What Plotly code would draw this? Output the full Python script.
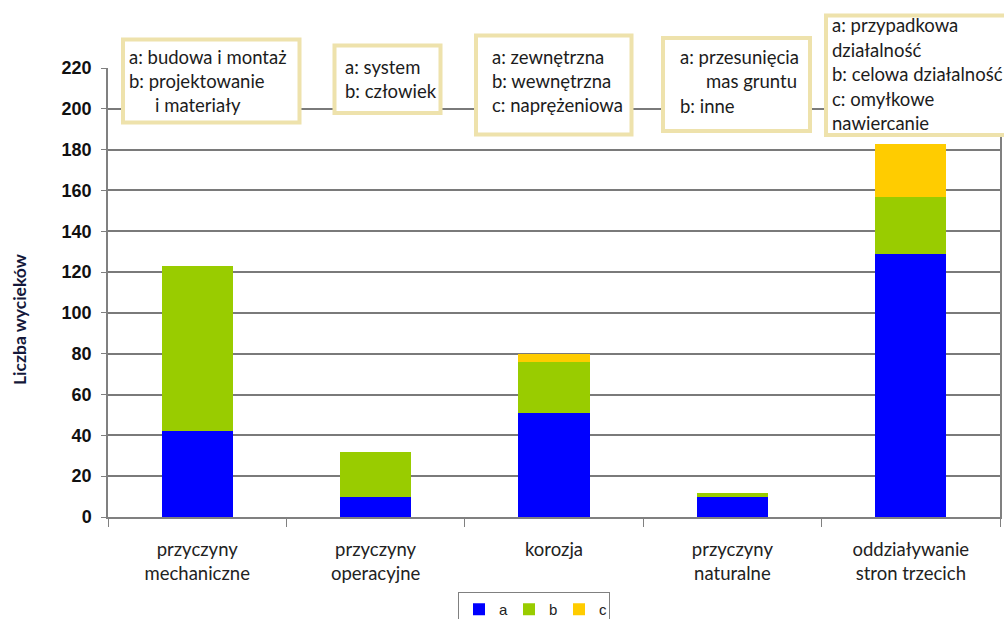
import plotly.graph_objects as go

# Leak counts by cause, split into sub-causes a / b / c
categories = ["przyczyny mechaniczne", "przyczyny operacyjne", "korozja",
              "przyczyny naturalne", "oddziaływanie stron trzecich"]
tick_labels = ["przyczyny<br>mechaniczne", "przyczyny<br>operacyjne", "korozja",
               "przyczyny<br>naturalne", "oddziaływanie<br>stron trzecich"]
series_a = [42, 10, 51, 10, 129]
series_b = [81, 22, 25, 2, 28]
series_c = [0, 0, 4, 0, 26]
y_ticks = list(range(0, 221, 20))

# Legend text for every cause (one list of lines per box)
box_lines = [
    ["a: budowa i montaż", "b: projektowanie", "    i materiały"],
    ["a: system", "b: człowiek"],
    ["a: zewnętrzna", "b: wewnętrzna", "c: naprężeniowa"],
    ["a: przesunięcia", "    mas gruntu", "b: inne"],
    ["a: przypadkowa", "działalność", "b: celowa działalność", "c: omyłkowe", "nawiercanie"],
]

W, H = 1004, 619
ML, MR, MT, MB = 108, 4, 68, 102
PW, PH = W - ML - MR, H - MT - MB


def px_x(x):
    return (x - ML) / PW


def px_y(y):
    return (H - MB - y) / PH


fig = go.Figure()
colors = {"a": "#0000FF", "b": "#99CC00", "c": "#FFCC00"}
for name, vals in (("a", series_a), ("b", series_b), ("c", series_c)):
    fig.add_trace(go.Bar(
        x=categories, y=vals, name=name, width=0.4,
        marker=dict(color=colors[name], line=dict(width=0)),
    ))

# Box geometry (pixel frame) and the text placement inside each box
box_rects = [(123, 39.5, 299.5, 122.5), (334.5, 45.5, 440.5, 113),
             (476, 35.5, 631.5, 134.5), (663, 38, 810, 131),
             (826, 15.5, 1008, 135)]
text_x = [[127, 127, 127], [343, 343], [490, 490, 490], [678, 678, 678],
          [830, 830, 830, 830, 830]]
text_y = [[57, 81, 105], [67, 91], [57, 81, 105], [57, 81, 106],
          [25, 50, 74, 99, 123]]

shapes = []
annotations = []
for (x0, y0, x1, y1), lines, xs, ys in zip(box_rects, box_lines, text_x, text_y):
    shapes.append(dict(type="rect", xref="paper", yref="paper",
                       x0=px_x(x0), x1=px_x(x1), y0=px_y(y1), y1=px_y(y0),
                       line=dict(color="#EEE2AC", width=4), fillcolor="white",
                       layer="above"))
    for line, lx, ly in zip(lines, xs, ys):
        indent = len(line) - len(line.lstrip(" "))
        annotations.append(dict(
            text=line.strip(), xref="paper", yref="paper",
            x=px_x(lx + indent * 6.5), y=px_y(ly), xanchor="left", yanchor="middle",
            showarrow=False,
            font=dict(family="Lato, Carlito, Calibri, sans-serif", size=18.5, color="#1c1c1c"),
        ))

annotations.append(dict(
    text="<b>Liczba wycieków</b>", xref="paper", yref="paper",
    x=px_x(19), y=px_y(320), textangle=-90, showarrow=False,
    xanchor="center", yanchor="middle",
    font=dict(family="Lato, Carlito, Calibri, sans-serif", size=17.5, color="#14183a"),
))

fig.update_layout(
    width=W, height=H,
    margin=dict(l=ML, r=MR, t=MT, b=MB, autoexpand=False),
    paper_bgcolor="white", plot_bgcolor="white",
    barmode="stack", bargap=0.6,
    shapes=shapes, annotations=annotations,
    showlegend=True,
    legend=dict(orientation="h", x=px_x(458), y=px_y(592), xanchor="left", yanchor="top",
                bordercolor="#808080", borderwidth=1, bgcolor="white",
                entrywidth=5, entrywidthmode="pixels",
                font=dict(family="Liberation Sans, Arial, sans-serif", size=15, color="#222222"),
                itemsizing="constant", traceorder="normal"),
)

fig.update_xaxes(
    type="category", tickvals=categories, ticktext=tick_labels,
    tickson="boundaries", ticks="outside", ticklen=8, tickcolor="#808080",
    showline=True, linecolor="#808080", linewidth=1.5,
    showgrid=False, ticklabelstandoff=15,
    tickfont=dict(family="Lato, Carlito, Calibri, sans-serif", size=18.5, color="#222222"),
)
fig.update_yaxes(
    range=[0, 220], tickvals=y_ticks, ticks="outside", ticklen=5, tickcolor="#808080",
    showline=True, linecolor="#808080", linewidth=1.5, mirror=True,
    showgrid=True, gridcolor="#7a7a7a", gridwidth=1.5, zeroline=False,
    tickfont=dict(family="Liberation Sans, Arial, sans-serif", size=18, color="#111111", weight="bold"),
    ticklabelstandoff=6,
)

fig.write_html("out.html")
